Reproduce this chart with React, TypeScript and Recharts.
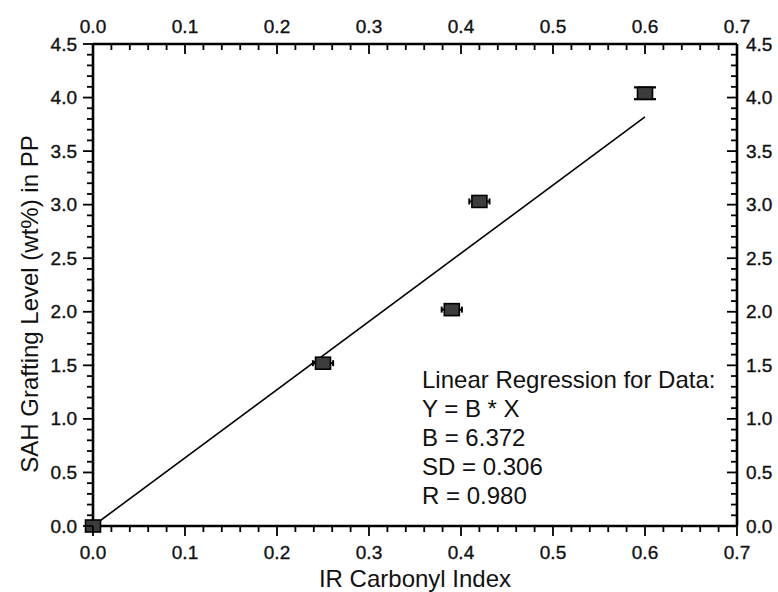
// SAH-Pfropfgrad vs. IR-Carbonylindex mit linearer Regression (recharts).

import { ComposedChart, Scatter, XAxis, YAxis, ErrorBar } from "recharts"

const carbonylIndex = [0.0, 0.25, 0.39, 0.42, 0.6]
const graftingLevel = [0.0, 1.52, 2.02, 3.03, 4.04]
const indexError = [0, 0.011, 0.011, 0.011, 0]
const levelError = [0, 0, 0, 0, 0.055]

// Regressionsgerade Y = B * X, Endpunkte aus dem Bild
const fitX = [0, 0.6]
const fitY = [0, 3.82]

const xTickLabels = ["0.0", "0.1", "0.2", "0.3", "0.4", "0.5", "0.6", "0.7"]
const yTickLabels = ["0.0", "0.5", "1.0", "1.5", "2.0", "2.5", "3.0", "3.5", "4.0", "4.5"]

const regressionText = [
  "Linear Regression for Data:",
  "Y = B * X",
  "B = 6.372",
  "SD = 0.306",
  "R = 0.980",
]

const FONT = '"Liberation Sans", Arial, Helvetica, sans-serif'
const W = 778
const H = 592

function withMinor(major: number[], steps: number) {
  const out: number[] = []
  major.forEach((v, i) => {
    out.push(v)
    const next = major[i + 1]
    if (next === undefined) return
    for (let k = 1; k < steps; k++) out.push(+(v + ((next - v) * k) / steps).toFixed(4))
  })
  return out
}

const xMajor = xTickLabels.map(Number)
const yMajor = yTickLabels.map(Number)
const xTicks = withMinor(xMajor, 5)
const yTicks = withMinor(yMajor, 5)

type Side = "bottom" | "top" | "left" | "right"

function makeTick(side: Side, majors: number[]) {
  return function Tick(props: any) {
    const { x, y, payload } = props
    const v = Number(payload.value)
    const isMajor = majors.some((m) => Math.abs(m - v) < 1e-6)
    const len = isMajor ? 10 : 6
    const label = isMajor ? v.toFixed(1) : null
    const textProps = {
      fontSize: 19,
      fontFamily: FONT,
      fill: "#111",
      stroke: "#111",
      strokeWidth: 0.35,
    }
    if (side === "bottom") {
      return (
        <g>
          <line x1={x} y1={y} x2={x} y2={y + len} stroke="#000" strokeWidth={1.8} />
          {label && (
            <text x={x} y={y + 26} textAnchor="middle" dominantBaseline="central" {...textProps}>
              {label}
            </text>
          )}
        </g>
      )
    }
    if (side === "top") {
      return (
        <g>
          <line x1={x} y1={y} x2={x} y2={y + len} stroke="#000" strokeWidth={1.8} />
          {label && (
            <text x={x} y={y - 18} textAnchor="middle" dominantBaseline="central" {...textProps}>
              {label}
            </text>
          )}
        </g>
      )
    }
    if (side === "left") {
      return (
        <g>
          <line x1={x} y1={y} x2={x - len} y2={y} stroke="#000" strokeWidth={1.8} />
          {label && (
            <text x={x - 16} y={y} textAnchor="end" dominantBaseline="central" {...textProps}>
              {label}
            </text>
          )}
        </g>
      )
    }
    return (
      <g>
        <line x1={x} y1={y} x2={x - len} y2={y} stroke="#000" strokeWidth={1.8} />
        {label && (
          <text x={x + 9} y={y} textAnchor="start" dominantBaseline="central" {...textProps}>
            {label}
          </text>
        )}
      </g>
    )
  }
}

const BottomTick = makeTick("bottom", xMajor)
const TopTick = makeTick("top", xMajor)
const LeftTick = makeTick("left", yMajor)
const RightTick = makeTick("right", yMajor)

function Marker(props: any) {
  const { cx, cy } = props
  if (cx == null || cy == null) return <g />
  return (
    <rect x={cx - 7.5} y={cy - 6} width={15} height={12} fill="#3c3c3c" stroke="#000" strokeWidth={1.6} />
  )
}

const points = carbonylIndex.map((x, i) => ({
  x,
  y: graftingLevel[i],
  ex: indexError[i],
  ey: levelError[i],
}))
const xErrPoints = points.filter((p) => p.ex > 0)
const yErrPoints = points.filter((p) => p.ey > 0)
const plainPoints = points.filter((p) => p.ex === 0 && p.ey === 0)
const fitData = fitX.map((x, i) => ({ x, y: fitY[i] }))

const axisLine = { stroke: "#000", strokeWidth: 2.6 }

export default function App() {
  return (
    <div style={{ position: "relative", width: W, height: H, background: "#fff", fontFamily: FONT }}>
      <style>{"body{margin:0;background:#fff}"}</style>
      <ComposedChart width={W} height={H} margin={{ top: 0, right: 0, bottom: 0, left: 0 }}>
        <XAxis
          xAxisId="b"
          orientation="bottom"
          type="number"
          dataKey="x"
          domain={[0, 0.7]}
          ticks={xTicks}
          interval={0}
          tickSize={0}
          tickMargin={0}
          tickLine={false}
          tick={BottomTick}
          axisLine={axisLine}
          height={66}
        />
        <XAxis
          xAxisId="t"
          orientation="top"
          type="number"
          dataKey="x"
          domain={[0, 0.7]}
          ticks={xTicks}
          interval={0}
          tickSize={0}
          tickMargin={0}
          tickLine={false}
          tick={TopTick}
          axisLine={axisLine}
          height={44}
        />
        <YAxis
          yAxisId="l"
          orientation="left"
          type="number"
          dataKey="y"
          domain={[0, 4.5]}
          ticks={yTicks}
          interval={0}
          tickSize={0}
          tickMargin={0}
          tickLine={false}
          tick={LeftTick}
          axisLine={axisLine}
          width={93}
        />
        <YAxis
          yAxisId="r"
          orientation="right"
          type="number"
          dataKey="y"
          domain={[0, 4.5]}
          ticks={yTicks}
          interval={0}
          tickSize={0}
          tickMargin={0}
          tickLine={false}
          tick={RightTick}
          axisLine={axisLine}
          width={41}
        />
        {/* unsichtbare Serie, damit die gespiegelten Achsen oben/rechts gezeichnet werden */}
        <Scatter
          xAxisId="t"
          yAxisId="r"
          data={fitData}
          shape={() => <g />}
          isAnimationActive={false}
        />
        <Scatter
          xAxisId="b"
          yAxisId="l"
          data={fitData}
          line={{ stroke: "#000", strokeWidth: 1.6 }}
          shape={() => <g />}
          isAnimationActive={false}
        />
        <Scatter xAxisId="b" yAxisId="l" data={plainPoints} shape={Marker} isAnimationActive={false} />
        <Scatter xAxisId="b" yAxisId="l" data={xErrPoints} shape={Marker} isAnimationActive={false}>
          <ErrorBar dataKey="ex" direction="x" width={3} stroke="#000" strokeWidth={2} />
        </Scatter>
        <Scatter xAxisId="b" yAxisId="l" data={yErrPoints} shape={Marker} isAnimationActive={false}>
          <ErrorBar dataKey="ey" direction="y" width={11} stroke="#000" strokeWidth={2.2} />
        </Scatter>
      </ComposedChart>

      {/* Regressionsergebnis */}
      <div
        style={{
          position: "absolute",
          left: 422,
          top: 365,
          fontSize: 24,
          lineHeight: "29px",
          color: "#111",
          whiteSpace: "nowrap",
        }}
      >
        {regressionText.map((t) => (
          <div key={t}>{t}</div>
        ))}
      </div>

      {/* Achsentitel */}
      <div
        style={{
          position: "absolute",
          left: 415,
          top: 579,
          transform: "translate(-50%, -50%)",
          fontSize: 24,
          color: "#111",
          whiteSpace: "nowrap",
        }}
      >
        IR Carbonyl Index
      </div>
      <div
        style={{
          position: "absolute",
          left: 30,
          top: 304,
          transform: "translate(-50%, -50%) rotate(-90deg)",
          fontSize: 24,
          color: "#111",
          whiteSpace: "nowrap",
        }}
      >
        SAH Grafting Level (wt%) in PP
      </div>
    </div>
  )
}
